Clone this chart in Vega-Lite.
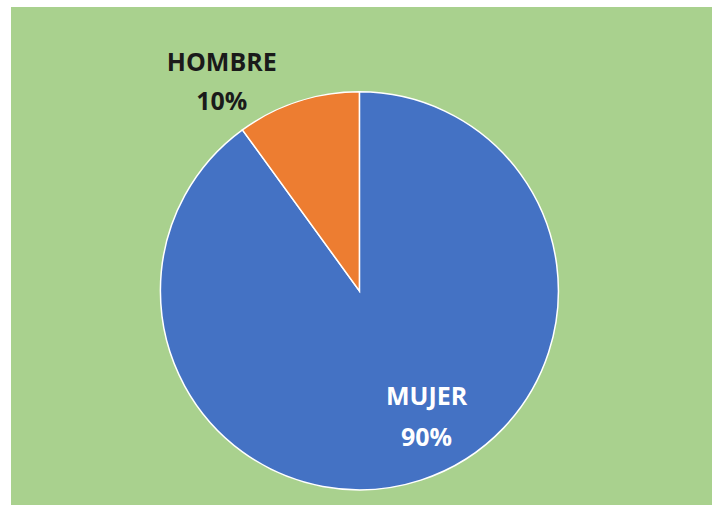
{
  "$schema": "https://vega.github.io/schema/vega-lite/v6.json",
  "width": 701,
  "height": 498,
  "padding": {"left": 11, "top": 7, "right": 7, "bottom": 5},
  "background": "#ffffff",
  "config": {"view": {"fill": "#A9D18E", "stroke": null}},
  "data": {
    "values": [
      {"sexo": "MUJER", "pct": 90, "orden": 1, "etiqueta": "MUJER\n90%"},
      {"sexo": "HOMBRE", "pct": 10, "orden": 2, "etiqueta": "HOMBRE\n10%"}
    ]
  },
  "encoding": {
    "theta": {"field": "pct", "type": "quantitative", "stack": true},
    "order": {"field": "orden", "type": "quantitative"},
    "x": {"datum": 0.497, "type": "quantitative", "scale": {"domain": [0, 1]}, "axis": null},
    "y": {"datum": 0.43, "type": "quantitative", "scale": {"domain": [0, 1]}, "axis": null}
  },
  "layer": [
    {
      "mark": {"type": "arc", "outerRadius": 199, "stroke": "#ffffff", "strokeWidth": 1.5},
      "encoding": {
        "color": {
          "field": "sexo",
          "type": "nominal",
          "scale": {"domain": ["MUJER", "HOMBRE"], "range": ["#4472C4", "#ED7D31"]},
          "legend": null
        }
      }
    },
    {
      "mark": {"type": "text", "radius": 130, "dx": 27, "dy": -17, "font": "Open Sans", "fontWeight": "bold", "fontSize": 25, "lineBreak": "\n", "lineHeight": 41, "fill": "#ffffff"},
      "encoding": {
        "text": {"condition": {"test": "datum.sexo === 'MUJER'", "field": "etiqueta"}, "value": ""}
      }
    },
    {
      "mark": {"type": "text", "radius": 222, "dx": -69, "dy": -17, "font": "Open Sans", "fontWeight": "bold", "fontSize": 25, "lineBreak": "\n", "lineHeight": 39, "fill": "#1a1a1a"},
      "encoding": {
        "text": {"condition": {"test": "datum.sexo === 'HOMBRE'", "field": "etiqueta"}, "value": ""}
      }
    }
  ]
}
